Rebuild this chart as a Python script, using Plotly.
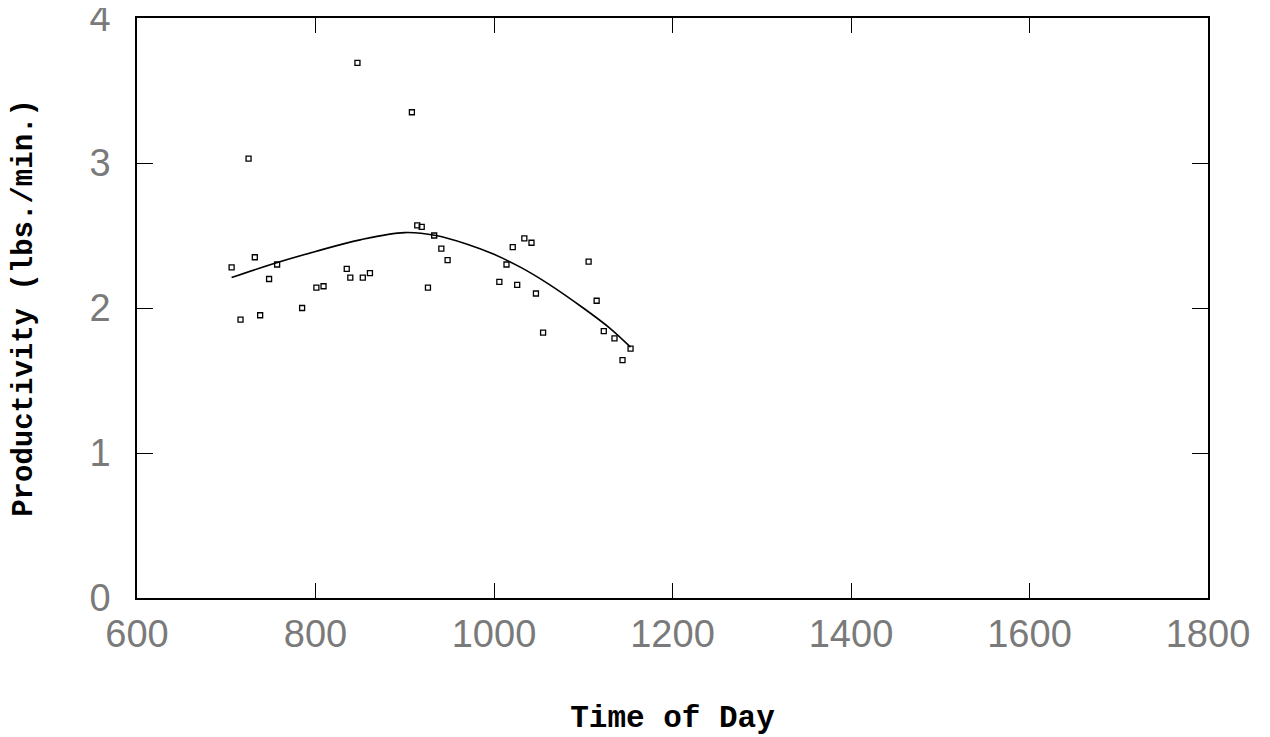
import plotly.graph_objects as go

# Observed data points (time of day, productivity lbs/min)
time_pts = [706, 716, 725, 732, 738, 748, 757, 785, 801, 809, 835, 839, 847, 853, 861,
            908, 914, 919, 926, 933, 941, 948, 1006, 1014, 1021, 1026, 1034, 1042, 1047,
            1055, 1106, 1115, 1123, 1135, 1144, 1153]
prod_pts = [2.28, 1.92, 3.03, 2.35, 1.95, 2.20, 2.30, 2.00, 2.14, 2.15, 2.27, 2.21, 3.69, 2.21, 2.24,
            3.35, 2.57, 2.56, 2.14, 2.50, 2.41, 2.33, 2.18, 2.30, 2.42, 2.16, 2.48, 2.45, 2.10,
            1.83, 2.32, 2.05, 1.84, 1.79, 1.64, 1.72]

# Fitted curve
curve_time = [706, 750, 800, 850, 900, 935, 970, 1000, 1030, 1060, 1100, 1130, 1153]
curve_prod = [2.21, 2.30, 2.39, 2.47, 2.52, 2.50, 2.44, 2.37, 2.28, 2.17, 2.00, 1.86, 1.73]

x_ticks = [600, 800, 1000, 1200, 1400, 1600, 1800]
y_ticks = [0, 1, 2, 3, 4]

fig = go.Figure()
fig.add_trace(go.Scatter(x=curve_time, y=curve_prod, mode="lines",
                         line=dict(color="black", width=1.6, shape="spline", smoothing=1.0),
                         showlegend=False, hoverinfo="skip"))
fig.add_trace(go.Scatter(x=time_pts, y=prod_pts, mode="markers",
                         marker=dict(symbol="square-open", size=5, color="black",
                                     line=dict(width=1.3, color="black")),
                         showlegend=False))

tickfont = dict(family="Liberation Sans", size=38, color="#7a7a7a")

fig.update_layout(
    width=1270, height=737,
    margin=dict(l=129, r=70, t=10, b=147),
    paper_bgcolor="white", plot_bgcolor="white",
    xaxis=dict(range=[600, 1800], tickvals=x_ticks, ticktext=[str(v) for v in x_ticks],
               ticks="inside", ticklen=15, tickwidth=1, tickcolor="black",
               showline=True, linecolor="black", linewidth=1.5, mirror="allticks",
               showgrid=False, zeroline=False, tickfont=tickfont, automargin=False,
               ticklabelstandoff=2, ticklabeloverflow="allow",
               title=dict(text="Time of Day", standoff=51,
                          font=dict(family="Liberation Mono", size=31, color="black", weight="bold"))),
    yaxis=dict(range=[0, 4], tickvals=y_ticks, ticktext=[str(v) for v in y_ticks],
               ticks="inside", ticklen=16, tickwidth=1, tickcolor="black",
               showline=True, linecolor="black", linewidth=1.5, mirror="allticks",
               showgrid=False, zeroline=False, tickfont=tickfont, automargin=False,
               ticklabelstandoff=17, ticklabeloverflow="allow",
               title=dict(text="Productivity (lbs./min.)", standoff=57,
                          font=dict(family="Liberation Mono", size=29, color="black", weight="bold"))),
)

fig.write_html("out.html")
